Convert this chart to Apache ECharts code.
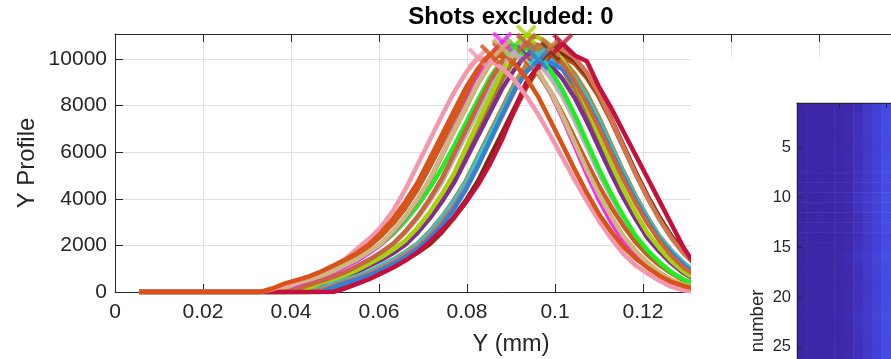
<!DOCTYPE html>
<html>
<head>
<meta charset="utf-8">
<script src="https://cdn.jsdelivr.net/npm/echarts@6/dist/echarts.min.js"></script>
<style>
  html, body { margin: 0; padding: 0; background: #fff; }
  #chart { width: 891px; height: 359px; }
</style>
</head>
<body>
<div id="chart"></div>
<script>
// sample positions (mm); first point is the flat start of every profile
const xs = [0.0055, 0.033, 0.03575, 0.0385, 0.04125, 0.044, 0.04675, 0.0495, 0.05225, 0.055,
  0.05775, 0.0605, 0.06325, 0.066, 0.06875, 0.0715, 0.07425, 0.077, 0.07975, 0.0825,
  0.08525, 0.088, 0.09075, 0.0935, 0.09625, 0.099, 0.10175, 0.1045, 0.10725, 0.11,
  0.11275, 0.1155, 0.11825, 0.121, 0.12375, 0.1265, 0.12925, 0.132];

// one profile per shot
const shotBrown = [0, 0, 0, 0, 0, 0, 120, 320, 480, 640, 840, 1090, 1350, 1660, 2010, 2520, 3130, 3850, 4670, 5700, 6750, 7800, 8850, 9700, 10300, 10200, 9850, 9200, 8350, 7300, 6150, 5000, 3950, 3050, 2250, 1650, 1150, 760];
const shotKhaki = [0, 0, 0, 0, 140, 350, 510, 660, 870, 1120, 1380, 1680, 2040, 2550, 3160, 3880, 4690, 5710, 6730, 7750, 8770, 9590, 10200, 10100, 9790, 9180, 8360, 7340, 6220, 5100, 4080, 3160, 2350, 1730, 1220, 820, 510, 310];
const shotRust = [0, 0, 0, 0, 0, 0, 0, 150, 350, 510, 660, 870, 1120, 1380, 1680, 2040, 2550, 3160, 3880, 4690, 5710, 6730, 7750, 8770, 9590, 10200, 10100, 9790, 9180, 8360, 7340, 6220, 5100, 4080, 3160, 2350, 1730, 1220];
const shotSalmon = [0, 0, 0, 150, 360, 520, 680, 880, 1140, 1400, 1720, 2080, 2600, 3220, 3950, 4780, 5820, 6860, 7900, 8940, 9780, 10400, 10300, 9980, 9360, 8530, 7490, 6340, 5200, 4160, 3220, 2390, 1770, 1250, 830, 520, 310, 210];
const shotGold = [0, 0, 0, 0, 0, 160, 370, 530, 690, 900, 1170, 1430, 1750, 2120, 2650, 3290, 4030, 4880, 5940, 7000, 8060, 9120, 9960, 10600, 10490, 10180, 9540, 8690, 7630, 6470, 5300, 4240, 3290, 2440, 1800, 1270, 850, 530];
const shotLavender = [0, 0, 0, 0, 150, 360, 520, 670, 880, 1130, 1390, 1700, 2060, 2580, 3190, 3910, 4740, 5770, 6800, 7830, 8860, 9680, 10300, 10200, 9890, 9270, 8450, 7420, 6280, 5150, 4120, 3190, 2370, 1750, 1240, 820, 520, 310];
const shotPurple = [0, 0, 0, 0, 0, 150, 360, 510, 660, 860, 1120, 1370, 1670, 2030, 2540, 3150, 3860, 4670, 5680, 6700, 7710, 8730, 9540, 10150, 10050, 9740, 9140, 8320, 7310, 6190, 5080, 4060, 3150, 2330, 1730, 1220, 810, 510];
const shotOlive = [0, 0, 0, 0, 0, 0, 160, 360, 520, 680, 880, 1140, 1400, 1720, 2080, 2600, 3220, 3950, 4780, 5820, 6860, 7900, 8940, 9780, 10400, 10300, 9980, 9360, 8530, 7490, 6340, 5200, 4160, 3220, 2390, 1770, 1250, 830];
const shotCyan = [0, 0, 0, 0, 0, 0, 150, 360, 510, 660, 860, 1120, 1370, 1670, 2030, 2540, 3150, 3860, 4670, 5680, 6700, 7710, 8730, 9540, 10150, 10050, 9740, 9140, 8320, 7310, 6190, 5080, 4060, 3150, 2330, 1730, 1220, 810];
const shotMaroon = [0, 0, 0, 0, 0, 0, 0, 160, 360, 520, 670, 880, 1140, 1400, 1710, 2070, 2590, 3210, 3930, 4760, 5800, 6830, 7870, 8900, 9730, 10350, 10250, 9940, 9320, 8490, 7450, 6310, 5180, 4140, 3210, 2380, 1760, 1240];
const shotCopper = [0, 0, 0, 0, 0, 0, 100, 280, 450, 610, 800, 1040, 1300, 1600, 1950, 2420, 3000, 3700, 4500, 5450, 6500, 7550, 8600, 9550, 10200, 10500, 10400, 10050, 9400, 8500, 7400, 6250, 5100, 4050, 3100, 2300, 1650, 1150];
const shotBlue = [0, 0, 0, 0, 0, 0, 0, 200, 380, 540, 720, 950, 1200, 1500, 1850, 2300, 2850, 3550, 4400, 5400, 6500, 7600, 8650, 9450, 9950, 9850, 9550, 8950, 8150, 7150, 6050, 4950, 3950, 3050, 2250, 1650, 1150, 750];
const shotOrange2 = [0, 0, 100, 300, 480, 650, 850, 1080, 1330, 1620, 1960, 2400, 2950, 3600, 4400, 5350, 6350, 7400, 8400, 9300, 9950, 10300, 10200, 9900, 9350, 8600, 7650, 6600, 5550, 4550, 3650, 2850, 2150, 1600, 1150, 800, 500, 300];
const shotGreen = [0, 0, 0, 0, 300, 520, 720, 930, 1150, 1400, 1700, 2050, 2500, 3050, 3700, 4450, 5300, 6250, 7250, 8250, 9200, 9950, 10550, 10440, 10130, 9500, 8650, 7600, 6440, 5280, 4220, 3270, 2430, 1790, 1270, 840, 530, 320];
const shotMagenta = [0, 0, 0, 100, 300, 450, 620, 830, 1080, 1350, 1680, 2050, 2580, 3200, 3950, 4800, 5850, 6950, 8050, 9150, 10050, 10730, 10550, 10150, 9450, 8550, 7450, 6250, 5050, 3950, 3000, 2200, 1600, 1100, 700, 420, 250, 130];
const shotTan = [0, 0, 0, 160, 370, 520, 680, 890, 1150, 1410, 1730, 2090, 2620, 3250, 3980, 4820, 5860, 6910, 7960, 9000, 9840, 10470, 10370, 10050, 9420, 8590, 7540, 6390, 5240, 4190, 3250, 2410, 1780, 1260, 840, 520, 310, 210];
const shotLime = [0, 0, 0, 0, 0, 170, 390, 550, 720, 940, 1210, 1490, 1820, 2210, 2760, 3420, 4190, 5070, 6180, 7280, 8380, 9490, 10370, 11030, 10920, 10590, 9930, 9040, 7940, 6730, 5520, 4410, 3420, 2540, 1880, 1320, 880, 550];
const shotSienna = [0, 0, 0, 0, 100, 300, 470, 640, 850, 1100, 1380, 1700, 2080, 2600, 3230, 3980, 4850, 5900, 6950, 8000, 9050, 9900, 10450, 10690, 10600, 10300, 9800, 9050, 8100, 7050, 5950, 4850, 3850, 2950, 2200, 1550, 1050, 700];
const shotCrimson = [0, 0, 0, 0, 0, 0, 0, 0, 150, 350, 550, 800, 1050, 1350, 1700, 2150, 2650, 3200, 3850, 4600, 5500, 6550, 7800, 9000, 9700, 10150, 10650, 10150, 9900, 8800, 7900, 6900, 5900, 4900, 3900, 2900, 1900, 1100];
const shotPink = [0, 0, 120, 280, 450, 640, 860, 1110, 1400, 1860, 2280, 2800, 3500, 4400, 5450, 6500, 7550, 8550, 9400, 10050, 9950, 9600, 9100, 8400, 7600, 6700, 5750, 4800, 3900, 3050, 2300, 1650, 1150, 800, 480, 220, 70, 0];
const shotOrange = [0, 0, 150, 360, 510, 660, 870, 1120, 1380, 1680, 2040, 2550, 3160, 3880, 4690, 5710, 6730, 7750, 8770, 9590, 10200, 10100, 9790, 9180, 8360, 7340, 6300, 5250, 4250, 3350, 2600, 1950, 1450, 1050, 700, 430, 260, 140];

const shots = [
  { data: shotBrown, color: '#a0522d' },
  { data: shotKhaki, color: '#d4c080' },
  { data: shotRust, color: '#b84a1e' },
  { data: shotSalmon, color: '#e08a6a' },
  { data: shotGold, color: '#a87b26' },
  { data: shotLavender, color: '#b6aae6' },
  { data: shotPurple, color: '#7e2f8e' },
  { data: shotOlive, color: '#b08a3c' },
  { data: shotCyan, color: '#16d3e6' },
  { data: shotMaroon, color: '#7d2a12' },
  { data: shotCopper, color: '#d27550' },
  { data: shotBlue, color: '#3380d4' },
  { data: shotOrange2, color: '#cc5a22' },
  { data: shotGreen, color: '#1ef01e' },
  { data: shotMagenta, color: '#f02cf5' },
  { data: shotTan, color: '#cdb97d' },
  { data: shotLime, color: '#a6d20c' },
  { data: shotSienna, color: '#c8643e' },
  { data: shotCrimson, color: '#c4103c' },
  { data: shotPink, color: '#f497ae' },
  { data: shotOrange, color: '#d95319' }
];

// image panel on the right (rows = shot number)
const heatCols = ['1', '2', '3', '4', '5', '6', '7', '8', '9', '10', '11', '12'];
const heatRowNames = ['1', '2', '3', '4', '5', '6', '7', '8', '9', '10', '11', '12', '13', '14',
  '15', '16', '17', '18', '19', '20', '21', '22', '23', '24', '25', '26', '27', '28'];
const heatRows = [
  [0, 0, 0, 0, 1, 2, 6, 14, 21, 29],
  [0, 0, 0, 1, 1, 3, 8, 15, 22, 30],
  [0, 0, 1, 0, 1, 2, 7, 16, 23, 31],
  [0, 0, 0, 0, 1, 3, 9, 15, 22, 30],
  [0, 1, 0, 0, 1, 2, 8, 14, 21, 29],
  [0, 0, 0, 1, 1, 3, 7, 15, 22, 31],
  [0, 0, 0, 0, 1, 2, 8, 16, 23, 30],
  [0, 0, 1, 0, 2, 3, 9, 15, 22, 30],
  [0, 0, 0, 0, 1, 2, 8, 14, 21, 29],
  [0, 0, 0, 1, 2, 4, 12, 17, 24, 32],
  [0, 0, 0, 0, 1, 3, 10, 16, 23, 31],
  [0, 0, 1, 0, 1, 2, 7, 15, 22, 30],
  [0, 0, 0, 0, 1, 2, 8, 15, 22, 30],
  [0, 1, 0, 0, 1, 3, 8, 14, 21, 29],
  [0, 0, 0, 1, 1, 2, 9, 15, 22, 30],
  [0, 0, 0, 0, 2, 4, 12, 17, 24, 32],
  [0, 0, 1, 0, 1, 3, 9, 16, 23, 31],
  [0, 0, 0, 0, 1, 2, 7, 15, 22, 30],
  [0, 0, 0, 1, 1, 2, 8, 14, 21, 29],
  [0, 0, 0, 0, 1, 3, 8, 15, 22, 30],
  [0, 1, 0, 0, 1, 2, 9, 16, 23, 31],
  [0, 0, 0, 1, 2, 4, 12, 17, 24, 32],
  [0, 0, 0, 0, 1, 3, 9, 15, 22, 30],
  [0, 0, 1, 0, 1, 2, 8, 15, 22, 30],
  [0, 0, 0, 0, 1, 2, 7, 14, 21, 29],
  [0, 0, 0, 1, 1, 3, 8, 15, 22, 30]
];

const FONT = '"Liberation Sans", Arial, Helvetica, sans-serif';
const AXIS = '#262626';
const GRIDC = '#e0e0e0';

const lineSeries = shots.map((s) => ({
  type: 'line',
  xAxisIndex: 0,
  yAxisIndex: 0,
  data: xs.map((x, i) => [x, s.data[i]]),
  symbol: 'none',
  lineStyle: { color: s.color, width: 4.5 },
  z: 2
}));

// x marker at each profile's maximum
const peakMarks = shots.map((s) => {
  let k = 0;
  s.data.forEach((v, i) => { if (v > s.data[k]) k = i; });
  return { value: [xs[k], s.data[k]], itemStyle: { color: s.color, borderColor: s.color } };
});

const heatData = [];
heatRows.forEach((row, r) => {
  row.forEach((v, c) => heatData.push([c, r, v]));
});

const everyFifth = (idx) => (idx + 1) % 5 === 0;

const chart = echarts.init(document.getElementById('chart'), null, { renderer: 'canvas' });
chart.setOption({
  animation: false,
  backgroundColor: '#fff',
  grid: [
    { left: 115, top: 34, width: 792, height: 258, outerBoundsMode: 'none', containLabel: false },
    { left: 797, top: 103, width: 112.8, height: 278.6, outerBoundsMode: 'none', containLabel: false }
  ],
  xAxis: [
    {
      gridIndex: 0, type: 'value', min: 0, max: 0.18, interval: 0.02,
      axisLine: { show: true, lineStyle: { color: AXIS, width: 1 } },
      axisTick: { show: true, inside: true, length: 8, lineStyle: { color: AXIS } },
      axisLabel: { color: AXIS, fontSize: 21, fontFamily: FONT, margin: 10,
        formatter: (v) => String(+v.toFixed(2)) },
      splitLine: { show: true, lineStyle: { color: GRIDC, width: 1 } }
    },
    {
      gridIndex: 0, type: 'value', position: 'top', min: 0, max: 0.18, interval: 0.02,
      axisLine: { show: true, lineStyle: { color: AXIS, width: 1 } },
      axisTick: { show: true, inside: true, length: 8, lineStyle: { color: AXIS } },
      axisLabel: { show: false },
      splitLine: { show: false }
    },
    {
      gridIndex: 1, type: 'category', position: 'top', data: heatCols, z: 30,
      axisLine: { show: true, lineStyle: { color: AXIS, width: 1 } },
      axisTick: { show: true, inside: true, length: 5, alignWithLabel: true,
        interval: everyFifth, lineStyle: { color: AXIS } },
      axisLabel: { show: false },
      splitLine: { show: false }
    }
  ],
  yAxis: [
    {
      gridIndex: 0, type: 'value', min: 0, max: 11070, interval: 2000,
      axisLine: { show: true, lineStyle: { color: AXIS, width: 1 } },
      axisTick: { show: true, inside: true, length: 8, lineStyle: { color: AXIS } },
      axisLabel: { color: AXIS, fontSize: 21, fontFamily: FONT, margin: 8, showMaxLabel: false,
        formatter: (v) => String(v) },
      splitLine: { show: true, lineStyle: { color: GRIDC, width: 1 } }
    },
    {
      gridIndex: 1, type: 'category', data: heatRowNames, inverse: true, z: 30,
      axisLine: { show: true, lineStyle: { color: AXIS, width: 1 } },
      axisTick: { show: true, inside: true, length: 5, alignWithLabel: true,
        interval: everyFifth, lineStyle: { color: AXIS } },
      axisLabel: { color: AXIS, fontSize: 16.5, fontFamily: FONT, margin: 6, interval: everyFifth },
      splitLine: { show: false }
    }
  ],
  visualMap: {
    show: false, min: 0, max: 40, dimension: 2, seriesIndex: shots.length + 1,
    inRange: { color: ['#3d26a6', '#4133bf', '#433fd3', '#454be3', '#4658ee'] }
  },
  graphic: [
    { type: 'rect', shape: { x: 691, y: 57, width: 220, height: 320 }, style: { fill: '#fff' }, z: 10 },
    { type: 'text', x: 511, y: 17, z: 40,
      style: { text: 'Shots excluded: 0', font: 'bold 24px ' + FONT, fill: '#000',
        align: 'center', verticalAlign: 'middle', textAlign: 'center', textVerticalAlign: 'middle' } },
    { type: 'text', x: 511, y: 345, z: 40,
      style: { text: 'Y (mm)', font: '23.5px ' + FONT, fill: AXIS,
        align: 'center', verticalAlign: 'middle', textAlign: 'center', textVerticalAlign: 'middle' } },
    { type: 'text', x: 27, y: 163, rotation: Math.PI / 2, z: 40,
      style: { text: 'Y Profile', font: '24px ' + FONT, fill: AXIS,
        align: 'center', verticalAlign: 'middle', textAlign: 'center', textVerticalAlign: 'middle' } },
    { type: 'text', x: 758, y: 321, rotation: Math.PI / 2, z: 40,
      style: { text: 'number', font: '18.5px ' + FONT, fill: AXIS,
        align: 'center', verticalAlign: 'middle', textAlign: 'center', textVerticalAlign: 'middle' } }
  ],
  series: lineSeries.concat([
    {
      type: 'scatter', xAxisIndex: 0, yAxisIndex: 0, data: peakMarks,
      symbol: 'path://M0,0L10,10M10,0L0,10', symbolSize: 18,
      itemStyle: { borderWidth: 4 }, z: 3
    },
    {
      type: 'heatmap', xAxisIndex: 2, yAxisIndex: 1, data: heatData, z: 20,
      itemStyle: { borderWidth: 0 }
    }
  ])
});
</script>
</body>
</html>
